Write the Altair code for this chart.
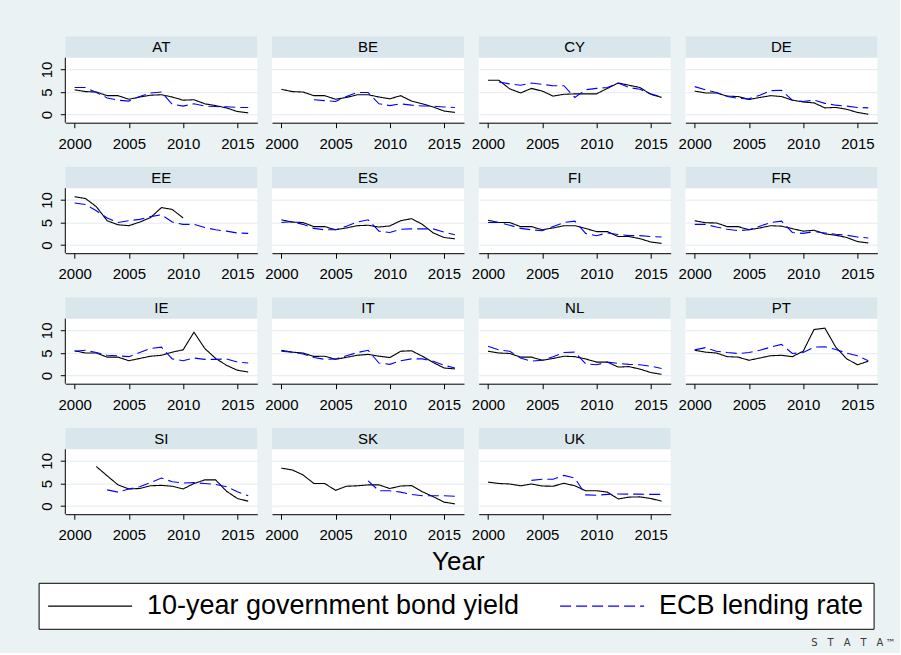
import altair as alt
import pandas as pd

FONT = "Liberation Sans"
YEARS = list(range(2000, 2017))
SERIES = ["10-year government bond yield", "ECB lending rate"]
COUNTRIES = ["AT", "BE", "CY", "DE", "EE", "ES", "FI", "FR",
             "IE", "IT", "NL", "PT", "SI", "SK", "UK"]
N = None

# Yearly values 2000-2016 (None = no observation)
AT_BOND = [5.5, 5.1, 5.0, 4.2, 4.2, 3.4, 3.9, 4.3, 4.4, 3.9, 3.2, 3.3, 2.4, 2.0, 1.5, 0.7, 0.4]
AT_ECB = [6.0, 6.0, 4.9, 3.7, 3.2, 3.0, 4.0, 4.8, 5.0, 2.3, 1.9, 2.4, 1.9, 1.8, 1.75, 1.6, 1.6]
BE_BOND = [5.6, 5.1, 5.0, 4.2, 4.2, 3.4, 3.8, 4.4, 4.4, 3.9, 3.5, 4.2, 3.0, 2.4, 1.7, 0.8, 0.5]
BE_ECB = [N, N, N, 3.3, 3.1, 2.9, 4.0, 4.9, 4.9, 2.4, 2.0, 2.4, 2.1, 1.9, 1.9, 1.7, 1.6]
CY_BOND = [7.6, 7.6, 5.7, 4.8, 5.8, 5.2, 4.1, 4.5, 4.6, 4.6, 4.6, 5.8, 7.0, 6.5, 6.0, 4.5, 3.8]
CY_ECB = [N, 7.2, 6.8, 6.5, 7.0, 6.7, 6.4, 6.4, 3.8, 5.5, 5.8, 6.0, 7.0, 6.0, 5.6, 4.6, 3.9]
DE_BOND = [5.2, 4.8, 4.8, 4.1, 4.0, 3.35, 3.8, 4.2, 4.0, 3.2, 2.8, 2.6, 1.5, 1.6, 1.2, 0.5, 0.1]
DE_ECB = [6.2, 5.5, 4.9, 4.0, 3.6, 3.5, 4.3, 5.3, 5.4, 3.2, 2.9, 3.2, 2.5, 2.1, 1.9, 1.6, 1.5]
EE_BOND = [10.7, 10.3, 8.5, 5.4, 4.5, 4.3, 5.1, 6.1, 8.3, 7.9, 6.0, N, N, N, N, N, N]
EE_ECB = [9.3, 9.0, 7.6, 6.0, 5.0, 5.4, 5.7, 6.3, 6.7, 5.1, 4.6, 4.6, 3.9, 3.4, 3.1, 2.7, 2.6]
ES_BOND = [5.6, 5.1, 5.0, 4.1, 4.1, 3.4, 3.8, 4.3, 4.4, 4.0, 4.25, 5.4, 5.85, 4.6, 2.7, 1.7, 1.4]
ES_ECB = [5.0, 5.2, 4.6, 3.7, 3.4, 3.4, 4.2, 5.1, 5.6, 3.1, 2.8, 3.5, 3.6, 3.6, 3.6, 2.9, 2.3]
FI_BOND = [5.5, 5.0, 5.0, 4.1, 4.1, 3.4, 3.8, 4.3, 4.3, 3.7, 3.0, 3.0, 1.9, 1.9, 1.45, 0.7, 0.4]
FI_ECB = [5.0, 5.0, 4.4, 3.7, 3.4, 3.2, 4.1, 5.0, 5.3, 2.6, 2.1, 2.7, 2.35, 2.1, 2.1, 1.9, 1.8]
FR_BOND = [5.4, 4.95, 4.9, 4.1, 4.1, 3.4, 3.8, 4.3, 4.2, 3.65, 3.1, 3.3, 2.5, 2.2, 1.7, 0.8, 0.5]
FR_ECB = [4.6, 4.6, 4.0, 3.5, 3.2, 3.4, 4.2, 5.0, 5.3, 2.8, 2.6, 3.0, 2.7, 2.4, 2.2, 1.8, 1.6]
IE_BOND = [5.5, 5.0, 5.0, 4.1, 4.1, 3.3, 3.8, 4.3, 4.5, 5.2, 5.7, 9.6, 6.0, 3.8, 2.3, 1.2, 0.8]
IE_ECB = [5.4, 5.6, 5.1, 4.5, 4.4, 4.2, 5.1, 6.0, 6.3, 3.7, 3.3, 3.9, 3.6, 3.6, 3.7, 3.0, 2.8]
IT_BOND = [5.6, 5.2, 5.0, 4.25, 4.3, 3.6, 4.05, 4.5, 4.7, 4.3, 4.0, 5.4, 5.5, 4.3, 2.9, 1.7, 1.5]
IT_ECB = [5.4, 5.2, 4.8, 4.0, 3.6, 3.7, 4.4, 5.1, 5.6, 2.8, 2.5, 3.3, 3.7, 3.7, 3.2, 2.3, 1.7]
NL_BOND = [5.4, 5.0, 4.9, 4.1, 4.1, 3.4, 3.8, 4.3, 4.2, 3.7, 3.0, 3.0, 1.9, 2.0, 1.45, 0.7, 0.3]
NL_ECB = [6.5, 5.7, 5.4, 3.9, 3.2, 3.4, 4.2, 5.1, 5.2, 2.6, 2.4, 3.0, 2.7, 2.5, 2.4, 2.1, 1.6]
PT_BOND = [5.6, 5.2, 5.0, 4.2, 4.1, 3.4, 3.9, 4.4, 4.5, 4.2, 5.4, 10.2, 10.5, 6.3, 3.75, 2.4, 3.2]
PT_ECB = [5.7, 6.2, 5.4, 5.1, 4.9, 5.1, 5.6, 6.3, 6.9, 4.9, 5.1, 6.3, 6.4, 5.8, 5.0, 4.4, 3.3]
SI_BOND = [N, N, 8.75, 6.7, 4.7, 3.8, 3.9, 4.5, 4.6, 4.4, 3.8, 5.0, 5.8, 5.8, 3.3, 1.7, 1.1]
SI_ECB = [N, N, N, 3.6, 3.1, 3.8, 4.3, 5.2, 6.2, 5.4, 5.1, 5.2, 5.0, 4.8, 4.3, 3.2, 2.3]
SK_BOND = [8.4, 8.0, 6.9, 5.0, 5.0, 3.5, 4.4, 4.5, 4.7, 4.7, 3.9, 4.45, 4.55, 3.2, 2.1, 0.9, 0.5]
SK_ECB = [N, N, N, N, N, N, N, N, 5.6, 3.4, 3.4, 3.1, 2.6, 2.3, 2.3, 2.3, 2.2]
UK_BOND = [5.3, 5.0, 4.9, 4.5, 4.9, 4.45, 4.4, 5.05, 4.5, 3.4, 3.4, 3.1, 1.6, 2.0, 2.05, 1.7, 1.1]
UK_ECB = [N, N, N, N, 5.7, 5.95, 5.95, 6.8, 6.2, 2.5, 2.4, 2.6, 2.7, 2.65, 2.65, 2.6, 2.6]

BOND = {"AT": AT_BOND, "BE": BE_BOND, "CY": CY_BOND, "DE": DE_BOND, "EE": EE_BOND,
        "ES": ES_BOND, "FI": FI_BOND, "FR": FR_BOND, "IE": IE_BOND, "IT": IT_BOND,
        "NL": NL_BOND, "PT": PT_BOND, "SI": SI_BOND, "SK": SK_BOND, "UK": UK_BOND}
ECB = {"AT": AT_ECB, "BE": BE_ECB, "CY": CY_ECB, "DE": DE_ECB, "EE": EE_ECB,
       "ES": ES_ECB, "FI": FI_ECB, "FR": FR_ECB, "IE": IE_ECB, "IT": IT_ECB,
       "NL": NL_ECB, "PT": PT_ECB, "SI": SI_ECB, "SK": SK_ECB, "UK": UK_ECB}

rows = []
for c in COUNTRIES:
    for name, vals in ((SERIES[0], BOND[c]), (SERIES[1], ECB[c])):
        for yr, v in zip(YEARS, vals):
            if v is not None:
                rows.append({"country": c, "series": name, "year": yr, "value": v})
df = pd.DataFrame(rows)

# panel geometry: a label strip on top of each plot region
W, HEAD, PLOT = 192, 21.5, 65
H = HEAD + PLOT
Y0, Y1 = -1.77, 12.58
YTOP = Y1 + HEAD * (Y1 - Y0) / PLOT
FIRST_COL = COUNTRIES[::4]

# legend key: a long horizontal stroke drawn from a short custom path
LEG_FONT = 27
KEY_LEN = 84.0
KEY_PATH = "M-10,0H10"            # scaled by sqrt(size)/2 when drawn
KEY_SIZE = (KEY_LEN / 10.0) ** 2
KEY_GAP = 15
SYM_OFFSET = KEY_LEN / 2 - LEG_FONT / 2
LAB_OFFSET = KEY_LEN + KEY_GAP - LEG_FONT - SYM_OFFSET

LOGO = "S\u2003T\u2003A\u2003T\u2003A\u2009\u2122"

one_per_panel = dict(n="count()", groupby=["country"])

strip = alt.Chart().mark_rect(color="#D9E6EB").transform_aggregate(**one_per_panel).encode(
    x=alt.value(0), x2=alt.value(W), y=alt.value(0), y2=alt.value(HEAD))

strip_text = alt.Chart().mark_text(
    font=FONT, fontSize=15, color="black", align="center", baseline="middle"
).transform_aggregate(**one_per_panel).encode(
    text="country:N", x=alt.value(W / 2), y=alt.value(HEAD / 2 + 0.5))

lines = alt.Chart().mark_line(strokeWidth=1.1).encode(
    x=alt.X("year:Q",
            scale=alt.Scale(domain=[1999.14, 2016.84], nice=False, zero=False),
            axis=alt.Axis(values=[2000, 2005, 2010, 2015], format="d", title=None,
                          grid=False, domain=True, ticks=True, labelPadding=8.5)),
    y=alt.Y("value:Q",
            scale=alt.Scale(domain=[Y0, YTOP], nice=False, zero=False),
            axis=alt.Axis(values=[0, 5, 10], title=None, grid=True, domain=False,
                          ticks=True, labelAngle=270, labelAlign="center",
                          labelBaseline="alphabetic", labelPadding=9)),
    color=alt.Color("series:N", sort=SERIES,
                    scale=alt.Scale(domain=SERIES, range=["#000000", "#0000ff"]),
                    legend=alt.Legend(title=None)),
    strokeDash=alt.StrokeDash("series:N", sort=SERIES,
                              scale=alt.Scale(domain=SERIES, range=[[1, 0], [11, 5]]),
                              legend=alt.Legend(title=None)),
)

yaxis_line = alt.Chart().mark_rule(color="black", strokeWidth=1).transform_filter(
    alt.FieldOneOfPredicate(field="country", oneOf=FIRST_COL)
).transform_aggregate(**one_per_panel).encode(
    x=alt.value(0), y=alt.value(HEAD), y2=alt.value(H))

panels = alt.layer(strip, lines, strip_text, yaxis_line).properties(width=W, height=H)

grid = panels.facet(
    facet=alt.Facet("country:N", title=None,
                    header=alt.Header(labels=False, title=None, labelExpr="''",
                                      labelPadding=0, labelFontSize=1)),
    columns=4,
    spacing={"row": 43.5, "column": 14.7},
    data=df,
).resolve_axis(x="independent").properties(
    bounds="flush",
    title=alt.TitleParams("Year", orient="bottom", anchor="middle", frame="bounds",
                          font=FONT, fontSize=26, fontWeight="normal", color="black",
                          offset=6),
)

chart = alt.vconcat(grid).properties(
    title=alt.TitleParams(LOGO, orient="bottom", anchor="end", font="DejaVu Sans",
                          fontSize=10, fontWeight="normal", color="#3a3a3a",
                          offset=9, dx=18),
    padding={"left": 37.3, "top": 35.2, "right": 4, "bottom": 4},
    background="#EAF2F3",
).configure_view(
    stroke=None, fill="white"
).configure_header(
    labels=False, title=None, labelPadding=0, titlePadding=0
).configure_axis(
    labelFont=FONT, labelFontSize=15, labelColor="black",
    tickColor="black", tickSize=5, tickWidth=1,
    domainColor="black", domainWidth=1,
    gridColor="#E3ECEF", gridWidth=1,
).configure_legend(
    orient="none", legendX=-26.7, legendY=546.6,
    direction="horizontal", fillColor="white", strokeColor="black",
    padding=9.5, labelFont=FONT, labelFontSize=LEG_FONT, labelColor="black",
    labelLimit=1000, symbolType=KEY_PATH, symbolSize=KEY_SIZE,
    symbolOffset=SYM_OFFSET, labelOffset=LAB_OFFSET,
    symbolStrokeWidth=1.3, columnPadding=37,
)

chart.save("out.html", embed_options={"renderer": "svg", "actions": False})
